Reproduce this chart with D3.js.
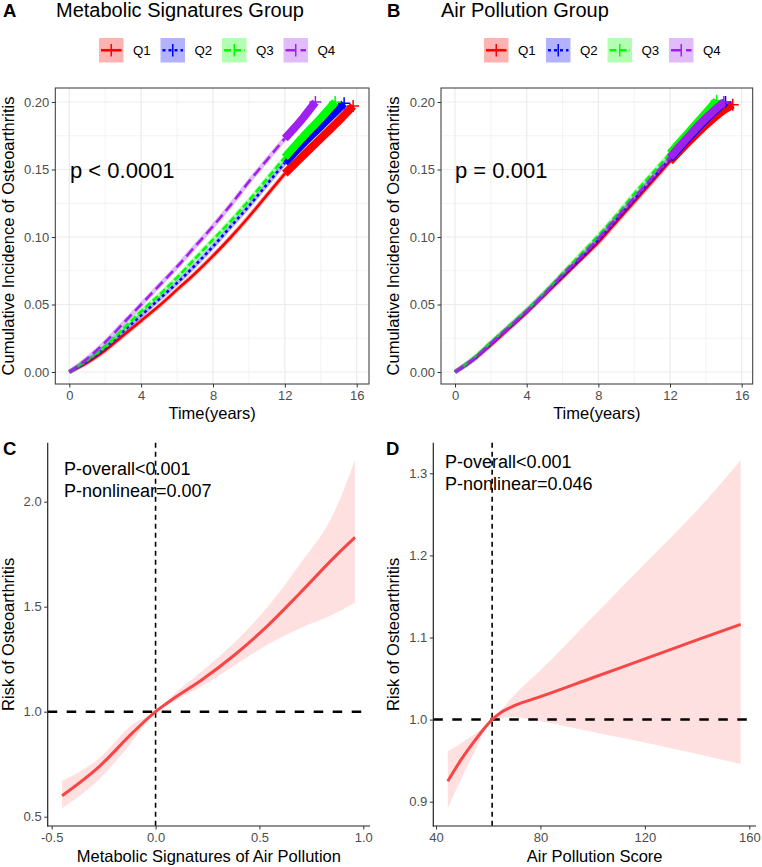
<!DOCTYPE html>
<html>
<head>
<meta charset="utf-8">
<script src="https://cdn.jsdelivr.net/npm/d3@7"></script>
<style>
  body { margin: 0; background: #fff; }
  svg text { font-family: "Liberation Sans", Arial, sans-serif; }
</style>
</head>
<body>
<svg id="fig" width="762" height="867"></svg>
<script>
// ---- data ----
const groups = ['Q1', 'Q2', 'Q3', 'Q4'];
const groupColors = ['#FF0000', '#0000FF', '#00FF00', '#A020F0'];
const groupDash = [null, '3,3', '7,3', '10,5'];

const kmYears = [0, 1, 2, 3, 4, 5, 6, 7, 8, 9, 10, 11, 12, 13, 14, 15];
const kmTicks = [0, 4, 8, 12, 16];
const incTicks = [0, 0.05, 0.10, 0.15, 0.20];

// panel A: cumulative incidence by year, then last follow-up point
const metabQ1 = [0, .007, .016, .027, .038, .049, .061, .073, .086, .100, .115, .131, .147, .160, .173, .186];
const metabQ2 = [0, .008, .018, .030, .042, .054, .066, .079, .093, .108, .123, .139, .155, .169, .182, .195];
const metabQ3 = [0, .009, .019, .032, .045, .057, .070, .084, .098, .112, .127, .143, .159, .174, .188];
const metabQ4 = [0, .010, .022, .036, .050, .064, .078, .093, .108, .124, .141, .157, .173, .188];
const metabEndT = [15.8, 15.3, 14.8, 13.7];
const metabEndV = [0.197, 0.199, 0.200, 0.200];

// panel B
const airQ1 = [0, .009, .020, .032, .044, .057, .070, .083, .096, .111, .126, .141, .156, .170, .183, .194];
const airQ2 = [0, .009, .021, .033, .045, .058, .071, .084, .098, .113, .128, .143, .158, .173, .187, .199];
const airQ3 = [0, .010, .022, .034, .046, .059, .073, .087, .101, .116, .132, .147, .162, .177, .192];
const airQ4 = [0, .009, .021, .033, .045, .058, .072, .085, .099, .114, .129, .144, .159, .174, .188];
const airEndT = [15.5, 15.1, 14.6, 15.0];
const airEndV = [0.198, 0.200, 0.201, 0.200];

// panel C: restricted cubic spline
const metabScore = [-0.45, -0.27, -0.11, 0, 0.09, 0.22, 0.38, 0.54, 0.70, 0.86, 0.96];
const metabRisk  = [0.60, 0.74, 0.90, 1.0, 1.065, 1.15, 1.27, 1.41, 1.57, 1.735, 1.83];
const metabLow   = [0.54, 0.68, 0.86, 1.0, 1.05, 1.12, 1.22, 1.32, 1.40, 1.465, 1.52];
const metabHigh  = [0.67, 0.78, 0.94, 1.0, 1.085, 1.19, 1.33, 1.50, 1.71, 1.95, 2.20];
const metabRef = 0;

// panel D
const airScore = [44.5, 50, 55, 61.5, 65, 70, 80, 100, 120, 140, 156.7];
const airRisk  = [0.925, 0.953, 0.975, 1.0, 1.009, 1.017, 1.028, 1.051, 1.074, 1.097, 1.116];
const airLow   = [0.892, 0.930, 0.962, 1.0, 1.002, 1.003, 0.998, 0.985, 0.972, 0.958, 0.946];
const airHigh  = [0.961, 0.972, 0.983, 1.0, 1.012, 1.030, 1.060, 1.125, 1.190, 1.255, 1.316];
const airRef = 61.5;

const svg = d3.select('#fig');
const tickGrey = '#4D4D4D';

function styleAxis(g, size) {
  g.selectAll('.tick text').attr('fill', tickGrey).attr('font-size', size)
    .attr('font-family', '"Liberation Sans", Arial, sans-serif');
  g.selectAll('.tick line').attr('stroke', '#333');
  g.select('.domain').remove();
}

function kmPanel(o) {
  const x = d3.scaleLinear().domain([0, 16]).range([o.x0, o.x16]);
  const y = d3.scaleLinear().domain([0, 0.2]).range([372, 102]);
  const g = svg.append('g');
  const L = o.left, R = o.right, T = 88, B = 384;

  // grid
  const minorX = [2, 6, 10, 14], minorY = [0.025, 0.075, 0.125, 0.175];
  g.selectAll('.mx').data(minorX).join('line')
    .attr('x1', d => x(d)).attr('x2', d => x(d)).attr('y1', T).attr('y2', B)
    .attr('stroke', '#EBEBEB').attr('stroke-width', 0.6);
  g.selectAll('.my').data(minorY).join('line')
    .attr('x1', L).attr('x2', R).attr('y1', d => y(d)).attr('y2', d => y(d))
    .attr('stroke', '#EBEBEB').attr('stroke-width', 0.6);
  g.selectAll('.gx').data(kmTicks).join('line')
    .attr('x1', d => x(d)).attr('x2', d => x(d)).attr('y1', T).attr('y2', B)
    .attr('stroke', '#EBEBEB').attr('stroke-width', 1.2);
  g.selectAll('.gy').data(incTicks).join('line')
    .attr('x1', L).attr('x2', R).attr('y1', d => y(d)).attr('y2', d => y(d))
    .attr('stroke', '#EBEBEB').attr('stroke-width', 1.2);

  // curves
  const line = d3.line().x(d => x(d[0])).y(d => y(d[1])).curve(d3.curveMonotoneX);
  o.series.forEach((vals, i) => {
    const pts = vals.map((v, k) => [kmYears[k], v]);
    pts.push([o.endT[i], o.endV[i]]);
    const early = pts.filter(d => d[0] <= 12);
    const late = pts.filter(d => d[0] >= 12);
    const col = groupColors[i];
    g.append('path').datum(early).attr('d', line).attr('fill', 'none')
      .attr('stroke', col).attr('stroke-opacity', 0.3).attr('stroke-width', 4.5);
    g.append('path').datum(early).attr('d', line).attr('fill', 'none')
      .attr('stroke', col).attr('stroke-width', 2.6)
      .attr('stroke-dasharray', groupDash[i]);
    g.append('path').datum(late).attr('d', line).attr('fill', 'none')
      .attr('stroke', col).attr('stroke-width', 8);
    // censoring mark at last follow-up
    const ex = x(o.endT[i]), ey = y(o.endV[i]);
    g.append('path').attr('d', `M${ex - 6},${ey}H${ex + 6}M${ex},${ey - 6}V${ey + 6}`)
      .attr('stroke', col).attr('stroke-width', 1.5);
  });

  // panel border
  g.append('rect').attr('x', L).attr('y', T).attr('width', R - L).attr('height', B - T)
    .attr('fill', 'none').attr('stroke', '#333').attr('stroke-width', 1);

  const ax = g.append('g').attr('transform', `translate(0,${B})`)
    .call(d3.axisBottom(x).tickValues(kmTicks).tickFormat(d3.format('d'))
      .tickSize(3.5).tickPadding(3).tickSizeOuter(0));
  styleAxis(ax, 13);
  const ay = g.append('g').attr('transform', `translate(${L},0)`)
    .call(d3.axisLeft(y).tickValues(incTicks).tickFormat(d3.format('.2f'))
      .tickSize(3.5).tickPadding(2.5).tickSizeOuter(0));
  styleAxis(ay, 13);

  g.append('text').attr('x', (L + R) / 2).attr('y', 419).attr('text-anchor', 'middle')
    .attr('font-size', 16.5).text('Time(years)');
  g.append('text').attr('transform', `translate(${o.yTitleX},${(T + B) / 2}) rotate(-90)`)
    .attr('text-anchor', 'middle').attr('font-size', 16.5)
    .text('Cumulative Incidence of Osteoarthritis');

  g.append('text').attr('x', o.pX).attr('y', 178).attr('font-size', 22).text(o.pText);

  // titles
  g.append('text').attr('x', o.letterX).attr('y', 17).attr('font-size', 18.5)
    .attr('font-weight', 'bold').text(o.letter);
  g.append('text').attr('x', o.titleX).attr('y', 17).attr('font-size', 20).text(o.title);

  // legend
  groups.forEach((q, i) => {
    const bx = o.legendX[i], by = 38;
    const col = groupColors[i];
    g.append('rect').attr('x', bx).attr('y', by).attr('width', 24.5).attr('height', 24.5)
      .attr('fill', col).attr('fill-opacity', 0.3);
    g.append('line').attr('x1', bx + 2).attr('x2', bx + 22.5).attr('y1', by + 12.25).attr('y2', by + 12.25)
      .attr('stroke', col).attr('stroke-width', 2.6).attr('stroke-dasharray', groupDash[i]);
    g.append('line').attr('x1', bx + 12.25).attr('x2', bx + 12.25).attr('y1', by + 6).attr('y2', by + 18.5)
      .attr('stroke', col).attr('stroke-width', 1.5);
    g.append('text').attr('x', bx + 34).attr('y', by + 17).attr('font-size', 13.3).text(q);
  });
}

kmPanel({
  left: 55.3, right: 369, x0: 69.3, x16: 356.7,
  series: [metabQ1, metabQ2, metabQ3, metabQ4], endT: metabEndT, endV: metabEndV,
  title: 'Metabolic Signatures Group', letter: 'A', letterX: 3, titleX: 56,
  pText: 'p < 0.0001', pX: 70, yTitleX: 14,
  legendX: [99, 160.5, 222, 283.5]
});
kmPanel({
  left: 441, right: 752.7, x0: 455, x16: 741.7,
  series: [airQ1, airQ2, airQ3, airQ4], endT: airEndT, endV: airEndV,
  title: 'Air Pollution Group', letter: 'B', letterX: 387, titleX: 441,
  pText: 'p = 0.001', pX: 455, yTitleX: 399,
  legendX: [484, 546, 607.5, 669]
});

function rcsPanel(o) {
  const x = d3.scaleLinear().domain(o.xDom).range(o.xRange);
  const y = d3.scaleLinear().domain(o.yDom).range(o.yRange);
  const g = svg.append('g');
  const T = 442.7, B = 826;
  const rows = o.xs.map((v, i) => ({ x: v, fit: o.fit[i], lo: o.lo[i], hi: o.hi[i] }));

  g.append('path').datum(rows)
    .attr('d', d3.area().x(d => x(d.x)).y0(d => y(d.lo)).y1(d => y(d.hi)).curve(d3.curveMonotoneX))
    .attr('fill', '#FF0000').attr('fill-opacity', 0.12);

  // reference lines
  g.append('line').attr('x1', o.axL).attr('x2', o.axR).attr('y1', y(1)).attr('y2', y(1))
    .attr('stroke', '#000').attr('stroke-width', 2.5).attr('stroke-dasharray', '9.5,9.5');
  g.append('line').attr('x1', x(o.ref)).attr('x2', x(o.ref)).attr('y1', T).attr('y2', B)
    .attr('stroke', '#000').attr('stroke-width', 1.6).attr('stroke-dasharray', '5,4');

  g.append('path').datum(rows)
    .attr('d', d3.line().x(d => x(d.x)).y(d => y(d.fit)).curve(d3.curveMonotoneX))
    .attr('fill', 'none').attr('stroke', '#F84545').attr('stroke-width', 3);

  // axes
  g.append('line').attr('x1', o.axL).attr('x2', o.axL).attr('y1', T).attr('y2', B + 0.5)
    .attr('stroke', '#222').attr('stroke-width', 1.2);
  g.append('line').attr('x1', o.axL - 0.5).attr('x2', o.axR).attr('y1', B).attr('y2', B)
    .attr('stroke', '#222').attr('stroke-width', 1.2);
  const ax = g.append('g').attr('transform', `translate(0,${B})`)
    .call(d3.axisBottom(x).tickValues(o.xTicks).tickFormat(o.xFmt)
      .tickSize(3.5).tickPadding(3).tickSizeOuter(0));
  styleAxis(ax, 13);
  const ay = g.append('g').attr('transform', `translate(${o.axL},0)`)
    .call(d3.axisLeft(y).tickValues(o.yTicks).tickFormat(d => d.toFixed(1))
      .tickSize(3.5).tickPadding(2.5).tickSizeOuter(0));
  styleAxis(ay, 13);

  g.append('text').attr('x', (o.axL + o.axR) / 2).attr('y', 862).attr('text-anchor', 'middle')
    .attr('font-size', 16.5).text(o.xTitle);
  g.append('text').attr('transform', `translate(${o.yTitleX},${(T + B) / 2}) rotate(-90)`)
    .attr('text-anchor', 'middle').attr('font-size', 16.5).text('Risk of Osteoarthritis');

  g.append('text').attr('x', o.letterX).attr('y', 455).attr('font-size', 18.5)
    .attr('font-weight', 'bold').text(o.letter);
  g.append('text').attr('x', o.pX).attr('y', o.pY).attr('font-size', 18).text(o.p1);
  g.append('text').attr('x', o.pX).attr('y', o.pY + 21.5).attr('font-size', 18).text(o.p2);
}

rcsPanel({
  xDom: [-0.5, 1.0], xRange: [51.7, 363.3], yDom: [0.5, 2.0], yRange: [816.7, 501.7],
  axL: 47.7, axR: 370, xs: metabScore, fit: metabRisk, lo: metabLow, hi: metabHigh, ref: metabRef,
  xTicks: [-0.5, 0, 0.5, 1.0], xFmt: d => d.toFixed(1), yTicks: [0.5, 1.0, 1.5, 2.0],
  xTitle: 'Metabolic Signatures of Air Pollution', yTitleX: 14,
  letter: 'C', letterX: 3, pX: 64, pY: 475, p1: 'P-overall<0.001', p2: 'P-nonlinear=0.007'
});
rcsPanel({
  xDom: [40, 160], xRange: [436, 749.3], yDom: [0.9, 1.3], yRange: [801.7, 473.3],
  axL: 433.3, axR: 756, xs: airScore, fit: airRisk, lo: airLow, hi: airHigh, ref: airRef,
  xTicks: [40, 80, 120, 160], xFmt: d3.format('d'), yTicks: [0.9, 1.0, 1.1, 1.2, 1.3],
  xTitle: 'Air Pollution Score', yTitleX: 399,
  letter: 'D', letterX: 386, pX: 445, pY: 468, p1: 'P-overall<0.001', p2: 'P-nonlinear=0.046'
});
</script>
</body>
</html>
